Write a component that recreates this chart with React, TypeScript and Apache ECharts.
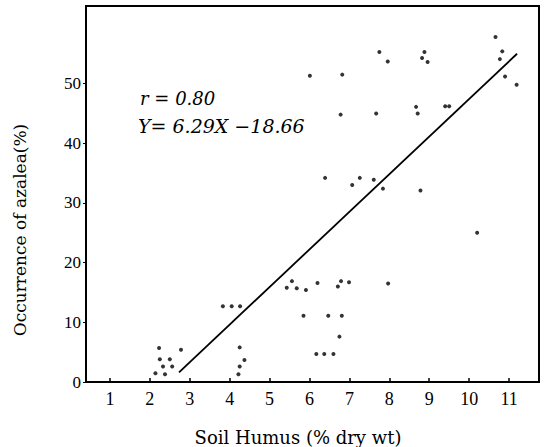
import React, { useEffect, useRef } from "react";
import * as echarts from "echarts";

// Tick labels
const xTicks = [1, 2, 3, 4, 5, 6, 7, 8, 9, 10, 11];
const yTicks = [0, 10, 20, 30, 40, 50];

// Observed (soil humus %, azalea occurrence %)
const lowPoints: [number, number][] = [
  [2.23, 5.7], [2.25, 3.8], [2.5, 3.8], [2.33, 2.6], [2.56, 2.6], [2.14, 1.45], [2.38, 1.3], [2.78, 5.4],
  [3.83, 12.7], [4.05, 12.7], [4.26, 12.7], [4.25, 5.8], [4.37, 3.7], [4.25, 2.6], [4.22, 1.3],
];
const midPoints: [number, number][] = [
  [5.56, 16.9], [5.43, 15.8], [5.68, 15.7], [5.91, 15.4], [6.2, 16.6], [5.85, 11.1],
  [6.17, 4.7], [6.37, 4.7], [6.6, 4.7], [6.79, 16.9], [6.71, 16.0], [6.99, 16.7], [7.97, 16.5],
  [6.47, 11.1], [6.81, 11.1], [6.75, 7.6], [10.2, 25.0],
];
const highPoints: [number, number][] = [
  [6.39, 34.2], [7.07, 33.0], [7.26, 34.2], [7.61, 33.9], [7.84, 32.4], [8.78, 32.1],
  [7.75, 55.3], [7.96, 53.7], [6.01, 51.3], [6.82, 51.5], [8.88, 55.3], [8.82, 54.3], [8.96, 53.6],
  [6.78, 44.8], [7.67, 45.0], [8.71, 45.0], [8.67, 46.1], [9.4, 46.2], [9.5, 46.2],
  [10.66, 57.8], [10.83, 55.4], [10.77, 54.1], [10.9, 51.2], [11.19, 49.8],
];
// Regression line end points as drawn
const fitLine: [number, number][] = [[2.73, 1.6], [11.2, 55.0]];

const rText = "r = 0.80";
const eqText = "Y= 6.29X −18.66";

export default function App() {
  const ref = useRef<HTMLDivElement>(null);
  useEffect(() => {
    document.body.style.margin = "0";
    const chart = echarts.init(ref.current!, null, { renderer: "svg" });
    const serif = "Liberation Serif";
    chart.setOption({
      animation: false,
      backgroundColor: "#fff",
      grid: {
        left: 86, right: 12, top: 6, bottom: 65,
        show: true, borderColor: "#000", borderWidth: 2,
        outerBoundsMode: "none",
      },
      xAxis: {
        type: "value", min: 0.4, max: 11.75,
        axisLine: { show: true, onZero: false, lineStyle: { color: "#000", width: 2 } },
        axisTick: { show: true, inside: true, length: 4, customValues: xTicks, lineStyle: { color: "#000", width: 1.5 } },
        axisLabel: { customValues: xTicks, margin: 8, color: "#000", fontFamily: serif, fontSize: 18 },
        splitLine: { show: false },
      },
      yAxis: {
        type: "value", min: 0, max: 63,
        axisLine: { show: true, onZero: false, lineStyle: { color: "#000", width: 2 } },
        axisTick: { show: true, length: 3, customValues: yTicks, lineStyle: { color: "#000" } },
        axisLabel: { customValues: yTicks, margin: 5, color: "#000", fontFamily: serif, fontSize: 17 },
        splitLine: { show: false },
      },
      series: [
        { type: "scatter", data: lowPoints, symbol: "circle", symbolSize: 4, itemStyle: { color: "#000" } },
        { type: "scatter", data: midPoints, symbol: "circle", symbolSize: 4, itemStyle: { color: "#000" } },
        { type: "scatter", data: highPoints, symbol: "circle", symbolSize: 4, itemStyle: { color: "#000" } },
        { type: "line", data: fitLine, symbol: "none", lineStyle: { color: "#000", width: 1.8 } },
      ],
      graphic: [
        {
          type: "text", x: 140, y: 98,
          style: { text: rText, fill: "#000", font: "italic 18px 'DejaVu Serif'", verticalAlign: "middle" },
        },
        {
          type: "text", x: 138, y: 126,
          style: { text: eqText, fill: "#000", font: "italic 19px 'DejaVu Serif'", verticalAlign: "middle" },
        },
        {
          type: "text", x: 298, y: 437,
          style: { text: "Soil Humus (% dry wt)", fill: "#000", font: "18px 'DejaVu Serif'", align: "center", verticalAlign: "middle" },
        },
        {
          type: "text", x: 20, y: 230, rotation: Math.PI / 2,
          style: { text: "Occurrence of azalea(%)", fill: "#000", font: "17px 'DejaVu Serif'", align: "center", verticalAlign: "middle" },
        },
      ],
    });
    return () => chart.dispose();
  }, []);
  return <div ref={ref} style={{ width: 551, height: 447 }} />;
}
